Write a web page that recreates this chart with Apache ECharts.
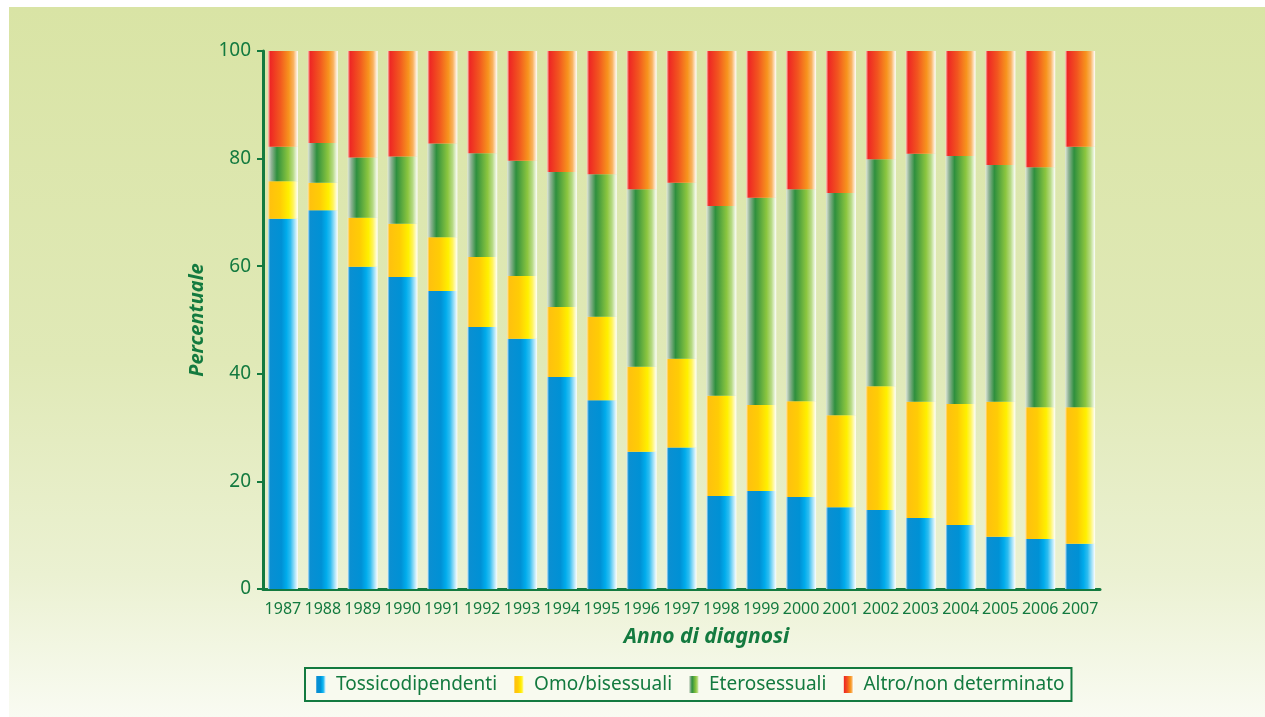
<!DOCTYPE html>
<html>
<head>
<meta charset="utf-8">
<title>Distribuzione percentuale per modalità di trasmissione</title>
<script src="https://cdn.jsdelivr.net/npm/echarts@6/dist/echarts.min.js"></script>
<style>
  html, body { margin: 0; padding: 0; background: #ffffff; }
  #chart { width: 1265px; height: 717px; }
</style>
</head>
<body>
<div id="chart"></div>
<script>
// Years of diagnosis
const anni = ['1987','1988','1989','1990','1991','1992','1993','1994','1995','1996','1997',
              '1998','1999','2000','2001','2002','2003','2004','2005','2006','2007'];

// Percentage share of each transmission category per year
const tossicodipendenti = [68.8, 70.4, 59.9, 58.0, 55.4, 48.7, 46.5, 39.4, 35.1, 25.5, 26.3,
                           17.3, 18.2, 17.1, 15.2, 14.7, 13.2, 11.9, 9.7, 9.3, 8.4];
const omoBisessuali     = [7.0, 5.1, 9.1, 9.9, 10.0, 13.0, 11.7, 13.0, 15.5, 15.8, 16.5,
                           18.6, 16.0, 17.8, 17.1, 23.0, 21.6, 22.5, 25.1, 24.5, 25.4];
const eterosessuali     = [6.4, 7.4, 11.2, 12.5, 17.4, 19.3, 21.4, 25.1, 26.5, 33.0, 32.7,
                           35.3, 38.5, 39.4, 41.3, 42.2, 46.1, 46.1, 44.0, 44.6, 48.4];
const altroNonDet       = [17.8, 17.1, 19.8, 19.6, 17.2, 19.0, 20.4, 22.5, 22.9, 25.7, 24.5,
                           28.8, 27.3, 25.7, 26.4, 20.1, 19.1, 19.5, 21.2, 21.6, 17.8];

// Y-axis ticks
const yTicks = [0, 20, 40, 60, 80, 100];

const GREEN = '#137a3f';

// Horizontal shaded fill used by the bars and the legend swatches
function shade(stops) {
  return {
    type: 'linear', x: 0, y: 0, x2: 1, y2: 0,
    colorStops: stops.map(s => ({ offset: s[0], color: s[1] }))
  };
}
const fillBlue = shade([[0, '#d6ecf8'], [0.07, '#0a8fd2'], [0.45, '#0091d5'], [0.62, '#00acec'],
                        [0.75, '#2dbcf0'], [1, '#ffffff']]);
const fillYellow = shade([[0, '#fde6b4'], [0.07, '#ffc10e'], [0.4, '#ffcc05'], [0.7, '#fff000'],
                          [0.84, '#fff45a'], [1, '#ffffff']]);
const fillGreen = shade([[0, '#dfe8d8'], [0.12, '#8fb294'], [0.3, '#2e8f3e'], [0.68, '#8cc63f'],
                         [0.84, '#b6da84'], [1, '#ffffff']]);
const fillRed = shade([[0, '#fbd3c4'], [0.08, '#ee2724'], [0.4, '#f2561f'], [0.7, '#f7941d'],
                       [0.85, '#f9b25f'], [1, '#ffffff']]);

function barSeries(name, data, fill) {
  return {
    name: name,
    type: 'bar',
    stack: 'totale',
    barWidth: 30,
    data: data,
    itemStyle: { color: fill },
    emphasis: { disabled: true }
  };
}

const chart = echarts.init(document.getElementById('chart'), null, { renderer: 'canvas' });

chart.setOption({
  animation: false,
  backgroundColor: '#ffffff',
  graphic: [{
    type: 'rect',
    z: -10,
    silent: true,
    shape: { x: 9, y: 7, width: 1256, height: 710 },
    style: {
      fill: {
        type: 'linear', x: 0, y: 0, x2: 0, y2: 1,
        colorStops: [
          { offset: 0, color: '#d9e4a5' },
          { offset: 0.5, color: '#e0e9b7' },
          { offset: 0.8, color: '#ebf1d2' },
          { offset: 1, color: '#f9fbf2' }
        ]
      }
    }
  }],
  grid: { left: 263, right: 165, top: 51, bottom: 128, containLabel: false },
  legend: {
    left: 305,
    top: 668,
    itemWidth: 10,
    itemHeight: 17,
    itemGap: 17,
    icon: 'rect',
    padding: [7, 7, 7, 11],
    borderColor: GREEN,
    borderWidth: 2,
    backgroundColor: '#f8faef',
    selectedMode: false,
    textStyle: {
      color: GREEN,
      fontFamily: 'Noto Sans',
      fontSize: 19,
      padding: [0, 0, 0, 5]
    },
    data: ['Tossicodipendenti', 'Omo/bisessuali', 'Eterosessuali', 'Altro/non determinato']
  },
  xAxis: {
    type: 'category',
    data: anni,
    name: 'Anno di diagnosi',
    nameLocation: 'middle',
    nameGap: 38,
    nameTextStyle: {
      color: GREEN,
      fontFamily: 'Noto Sans',
      fontSize: 21,
      fontWeight: 'bold',
      fontStyle: 'italic',
      padding: [0, 0, 0, 50]
    },
    axisLine: { lineStyle: { color: GREEN, width: 3 } },
    axisTick: { alignWithLabel: false, length: 6, lineStyle: { color: GREEN, width: 2 } },
    axisLabel: {
      interval: 0,
      margin: 12,
      color: GREEN,
      fontFamily: 'Noto Sans',
      fontSize: 16
    },
    splitLine: { show: false }
  },
  yAxis: {
    type: 'value',
    min: yTicks[0],
    max: yTicks[yTicks.length - 1],
    interval: yTicks[1] - yTicks[0],
    name: 'Percentuale',
    nameLocation: 'middle',
    nameGap: 55,
    nameTextStyle: {
      color: GREEN,
      fontFamily: 'Noto Sans',
      fontSize: 20,
      fontWeight: 'bold',
      fontStyle: 'italic'
    },
    axisLine: { show: true, lineStyle: { color: GREEN, width: 3 } },
    axisTick: { show: true, length: 6, lineStyle: { color: GREEN, width: 2 } },
    axisLabel: {
      margin: 12,
      color: GREEN,
      fontFamily: 'Noto Sans',
      fontSize: 19
    },
    splitLine: { show: false }
  },
  series: [
    barSeries('Tossicodipendenti', tossicodipendenti, fillBlue),
    barSeries('Omo/bisessuali', omoBisessuali, fillYellow),
    barSeries('Eterosessuali', eterosessuali, fillGreen),
    barSeries('Altro/non determinato', altroNonDet, fillRed)
  ]
});
</script>
</body>
</html>
